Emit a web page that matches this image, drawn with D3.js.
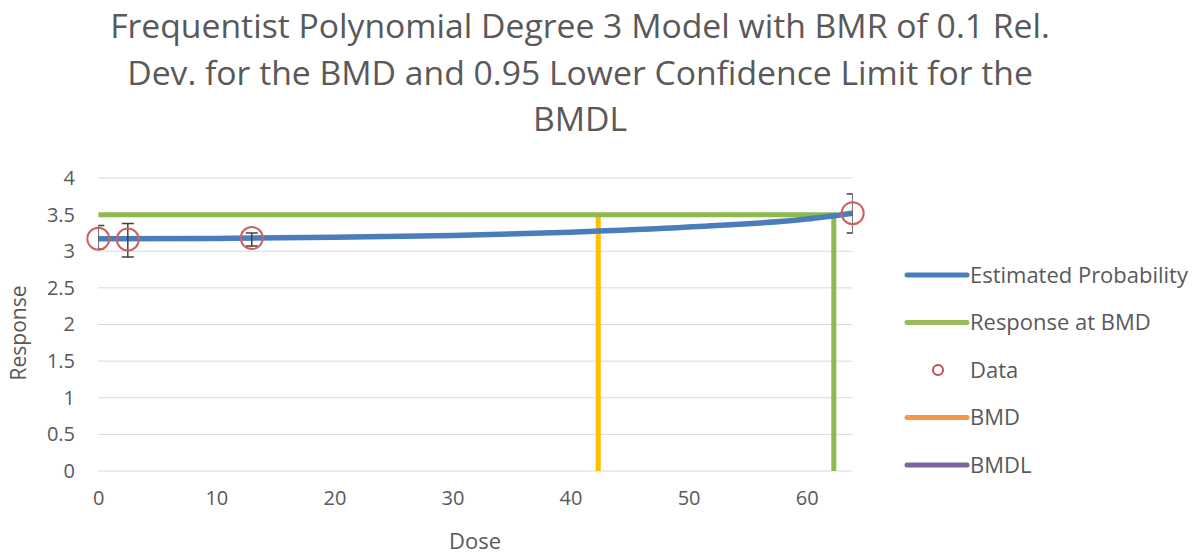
<!DOCTYPE html>
<html><head><meta charset="utf-8">
<script src="https://cdn.jsdelivr.net/npm/d3@7"></script>
<style>
html,body{margin:0;padding:0;background:#fff;}
text{font-family:"Open Sans","DejaVu Sans",sans-serif;fill:#595959;}
</style></head>
<body><svg id="chart" width="1198" height="558"></svg>
<script>
const titleLines = ["Frequentist Polynomial Degree 3 Model with BMR of 0.1 Rel.",
  "Dev. for the BMD and 0.95 Lower Confidence Limit for the", "BMDL"];
const xTicks = [0, 10, 20, 30, 40, 50, 60];
const yTicks = [0, 0.5, 1, 1.5, 2, 2.5, 3, 3.5, 4];
const dataDose = [0, 2.5, 13, 63.9];
const dataResp = [3.17, 3.16, 3.18, 3.52];
const dataLow = [3.03, 2.92, 3.07, 3.25];
const dataHigh = [3.35, 3.38, 3.25, 3.78];
const curveDose = [0, 10, 20, 30, 40, 50, 60, 63.9];
const curveResp = [3.17, 3.175, 3.19, 3.215, 3.26, 3.33, 3.44, 3.52];
const bmrDose = [0, 62.3, 62.3];
const bmrResp = [3.5, 3.5, 0];
const bmdDose = [42.35, 42.35];
const bmdResp = [3.5, 0];
const legendNames = ["Estimated Probability", "Response at BMD", "Data", "BMD", "BMDL"];
const legendColors = ["#4A7EBB", "#9BBB59", "#C0504D", "#F79646", "#8064A2"];

const svg = d3.select("#chart");
const x = d3.scaleLinear().domain([0, 63.9]).range([98.3, 852.7]);
const y = d3.scaleLinear().domain([0, 4]).range([471, 178]);

function fitSize(str, target, base) {
  const t = svg.append("text").text(str).attr("font-size", base);
  const w = t.node().getComputedTextLength();
  t.remove();
  return base * target / w;
}

// title
const tg = svg.append("g");
const fs = fitSize(titleLines[0], 940, 30);
titleLines.forEach((s, i) => {
  tg.append("text").text(s).attr("x", 580).attr("y", 38 + i * 46.5)
    .attr("text-anchor", "middle").attr("font-size", fs);
});

// gridlines
svg.append("g").selectAll("line").data(yTicks).join("line")
  .attr("x1", x.range()[0]).attr("x2", x.range()[1])
  .attr("y1", d => y(d)).attr("y2", d => y(d))
  .attr("stroke", "#D9D9D9").attr("stroke-width", 1);

// axes (labels only)
const xAxis = svg.append("g").attr("transform", "translate(0,488)")
  .call(d3.axisBottom(x).tickValues(xTicks).tickSize(0).tickFormat(d3.format("d")));
xAxis.select(".domain").remove();
xAxis.selectAll("text").attr("font-size", 20).attr("fill", "#595959")
  .attr("font-family", '"Open Sans",sans-serif');

const yAxis = svg.append("g").attr("transform", "translate(75,0)")
  .call(d3.axisLeft(y).tickValues(yTicks).tickSize(0).tickPadding(0).tickFormat(d => String(d)));
yAxis.select(".domain").remove();
yAxis.selectAll("text").attr("font-size", 20).attr("fill", "#595959")
  .attr("font-family", '"Open Sans",sans-serif');

svg.append("text").text("Dose").attr("x", 475).attr("y", 549)
  .attr("text-anchor", "middle").attr("font-size", fitSize("Dose", 52, 20));
svg.append("text").text("Response").attr("transform", "translate(26,333) rotate(-90)")
  .attr("text-anchor", "middle").attr("font-size", fitSize("Response", 95, 20));

// clip for plot area
svg.append("clipPath").attr("id", "plotclip").append("rect")
  .attr("x", x.range()[0]).attr("y", 150).attr("width", x.range()[1] - x.range()[0]).attr("height", 330);

const plot = svg.append("g").attr("clip-path", "url(#plotclip)");

plot.append("path").datum(bmdDose.map((d, i) => [d, bmdResp[i]]))
  .attr("d", d3.line().x(d => x(d[0])).y(d => y(d[1])))
  .attr("fill", "none").attr("stroke", "#FFC000").attr("stroke-width", 5);

plot.append("path").datum(bmrDose.map((d, i) => [d, bmrResp[i]]))
  .attr("d", d3.line().x(d => x(d[0])).y(d => y(d[1])))
  .attr("fill", "none").attr("stroke", "#8DBB4F").attr("stroke-width", 5)
  .attr("stroke-linejoin", "miter");

plot.append("path").datum(curveDose.map((d, i) => [d, curveResp[i]]))
  .attr("d", d3.line().curve(d3.curveMonotoneX).x(d => x(d[0])).y(d => y(d[1])))
  .attr("fill", "none").attr("stroke", "#4A7EBB").attr("stroke-width", 5.5);

const eb = plot.append("g").attr("stroke", "#404040").attr("stroke-width", 1.5);
dataDose.forEach((d, i) => {
  const cx = x(d);
  eb.append("line").attr("x1", cx).attr("x2", cx).attr("y1", y(dataLow[i])).attr("y2", y(dataHigh[i]));
  eb.append("line").attr("x1", cx - 6).attr("x2", cx + 6).attr("y1", y(dataLow[i])).attr("y2", y(dataLow[i]));
  eb.append("line").attr("x1", cx - 6).attr("x2", cx + 6).attr("y1", y(dataHigh[i])).attr("y2", y(dataHigh[i]));
});

svg.append("g").selectAll("circle").data(dataDose).join("circle")
  .attr("cx", d => x(d)).attr("cy", (d, i) => y(dataResp[i])).attr("r", 11)
  .attr("fill", "none").attr("stroke", "#D0605E").attr("stroke-width", 2);

// legend
const lg = svg.append("g");
const lfs = fitSize(legendNames[0], 218, 18);
legendNames.forEach((n, i) => {
  const cy = 275 + i * 47.5;
  if (n === "Data") {
    lg.append("circle").attr("cx", 938).attr("cy", cy).attr("r", 5)
      .attr("fill", "none").attr("stroke", legendColors[i]).attr("stroke-width", 2);
  } else {
    lg.append("line").attr("x1", 907).attr("x2", 967).attr("y1", cy).attr("y2", cy)
      .attr("stroke", legendColors[i]).attr("stroke-width", 5).attr("stroke-linecap", "round");
  }
  lg.append("text").text(n).attr("x", 970).attr("y", cy).attr("dy", "0.35em")
    .attr("font-size", lfs);
});
</script></body></html>
